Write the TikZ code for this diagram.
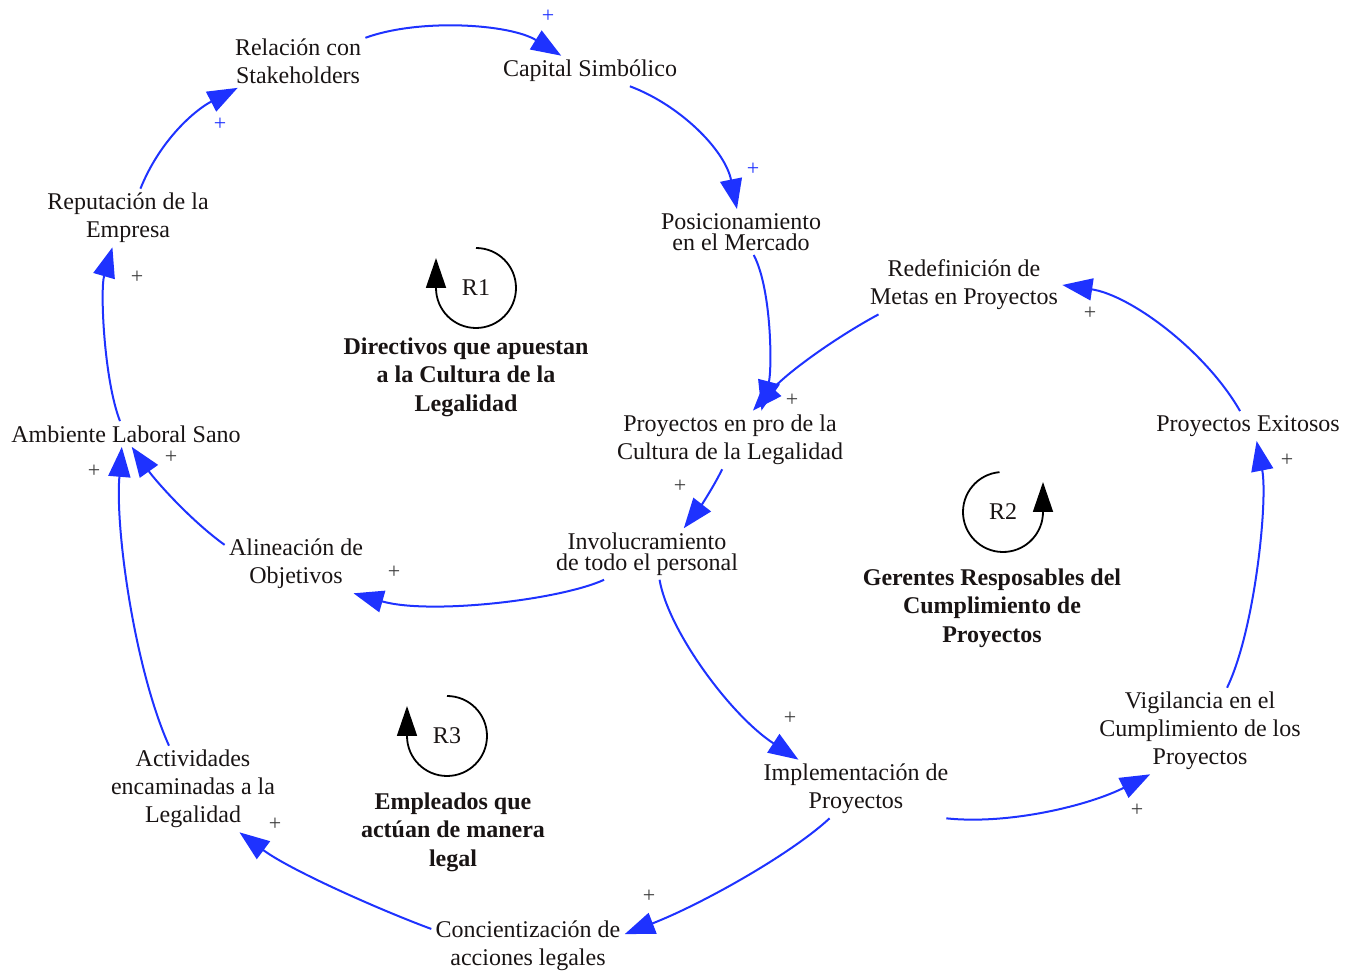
\documentclass[tikz,border=0pt]{standalone}
\usepackage{fontspec}
\setmainfont{Liberation Serif}
\usetikzlibrary{arrows.meta}
\definecolor{linkblue}{RGB}{30,50,255}
\definecolor{txt}{RGB}{25,20,20}
\definecolor{plusgray}{RGB}{60,60,60}
\begin{document}
\begin{tikzpicture}[x=0.5pt,y=0.5pt,
  var/.style={align=center, inner sep=2pt, text=txt, font=\fontsize{12}{14}\selectfont},
  tight/.style={font=\fontsize{12}{10.5}\selectfont},
  title/.style={align=center, inner sep=2pt, text=txt, font=\bfseries\fontsize{12}{14.25}\selectfont},
  rlabel/.style={inner sep=1pt, text=txt, font=\fontsize{12}{14}\selectfont},
  link/.style={color=linkblue, line width=1pt, -{Triangle[length=15pt,width=11pt]}},
  loopc/.style={color=black, line width=0.9pt, -{Triangle[length=15pt,width=10pt]}},
  pl/.style={inner sep=0pt, text=plusgray, font=\fontsize{11}{13}\selectfont},
  plb/.style={pl, text=linkblue}]
\useasboundingbox (0,0) rectangle (1356,-972);

% variables
\node[var] (rel) at (298,-61) {Relación con\\Stakeholders};
\node[var] (cap) at (590,-71) {Capital Simbólico};
\node[var,tight] (pos) at (741,-232) {Posicionamiento\\en el Mercado};
\node[var] (red) at (964,-285) {Redefinición de\\Metas en Proyectos};
\node[var] (pex) at (1248,-426) {Proyectos Exitosos};
\node[var] (ppc) at (730,-440) {Proyectos en pro de la\\Cultura de la Legalidad};
\node[var] (rep) at (128,-218) {Reputación de la\\Empresa};
\node[var] (amb) at (126,-434) {Ambiente Laboral Sano};
\node[var] (ali) at (296,-564) {Alineación de\\Objetivos};
\node[var,tight] (inv) at (647,-554) {Involucramiento\\de todo el personal};
\node[var] (imp) at (856,-789) {Implementación de\\Proyectos};
\node[var] (vig) at (1200,-731) {Vigilancia en el\\Cumplimiento de los\\Proyectos};
\node[var] (act) at (193,-789) {Actividades\\encaminadas a la\\Legalidad};
\node[var] (con) at (528,-946) {Concientización de\\acciones legales};

% loop titles
\node[title] (t1) at (466,-377) {Directivos que apuestan\\a la Cultura de la\\Legalidad};
\node[title] (t2) at (992,-608) {Gerentes Resposables del\\Cumplimiento de\\Proyectos};
\node[title] (t3) at (453,-832) {Empleados que\\actúan de manera\\legal};

% loop markers
\node[rlabel] (r1) at (476,-288) {R1};
\node[rlabel] (r2) at (1003,-512) {R2};
\node[rlabel] (r3) at (447,-736) {R3};
\draw[loopc] ([shift={(90:40)}]r1.center) arc[start angle=90, end angle=-180, radius=40] -- ++(0,30);
\draw[loopc] ([shift={(95:40)}]r2.center) arc[start angle=95, end angle=360, radius=40] -- ++(0,30);
\draw[loopc] ([shift={(90:40)}]r3.center) arc[start angle=90, end angle=-180, radius=40] -- ++(0,30);

% links
\draw[link] (rel.19) .. controls (420,-18) and (510,-24) .. (cap.152);
\draw[link] (cap.-21) .. controls (680,-105) and (725,-150) .. (pos.100);
\draw[link] (pos.-61) .. controls (772,-290) and (772,-370) .. (ppc.43);
\draw[link] (red.199) .. controls (840,-335) and (790,-370) .. (ppc.52);
\draw[link] (ppc.-105) .. controls (712,-490) and (698,-510) .. (inv.35);
\draw[link] (inv.211) .. controls (560,-600) and (430,-615) .. (ali.-27);
\draw[link] (inv.-64) .. controls (668,-630) and (730,-715) .. (imp.153);
\draw[link] (imp.-18) .. controls (1010,-825) and (1090,-805) .. (vig.221);
\draw[link] (vig.58) .. controls (1255,-630) and (1268,-500) .. (pex.-60);
\draw[link] (pex.118) .. controls (1205,-350) and (1130,-295) .. (red.0);
\draw[link] (imp.228) .. controls (790,-855) and (700,-905) .. (con.7);
\draw[link] (con.170) .. controls (380,-910) and (290,-870) .. (act.-43);
\draw[link] (act.119) .. controls (135,-670) and (115,-530) .. (amb.252);
\draw[link] (ali.165) .. controls (190,-520) and (155,-480) .. (amb.-66);
\draw[link] (amb.115) .. controls (104,-380) and (100,-290) .. (rep.242);
\draw[link] (rep.67) .. controls (160,-140) and (195,-110) .. (rel.204);

% polarities
\node[plb] (p1) at (548,-16) {+};
\node[plb] (p2) at (753,-169) {+};
\node[pl] (p3) at (792,-400) {+};
\node[pl] (p4) at (1090,-313) {+};
\node[pl] (p5) at (680,-486) {+};
\node[pl] (p6) at (394,-572) {+};
\node[pl] (p7) at (790,-718) {+};
\node[pl] (p8) at (1137,-810) {+};
\node[pl] (p9) at (1287,-460) {+};
\node[pl] (p10) at (649,-896) {+};
\node[pl] (p11) at (275,-824) {+};
\node[pl] (p12) at (94,-471) {+};
\node[pl] (p13) at (171,-457) {+};
\node[pl] (p14) at (137,-277) {+};
\node[plb] (p15) at (220,-124) {+};
\end{tikzpicture}
\end{document}
